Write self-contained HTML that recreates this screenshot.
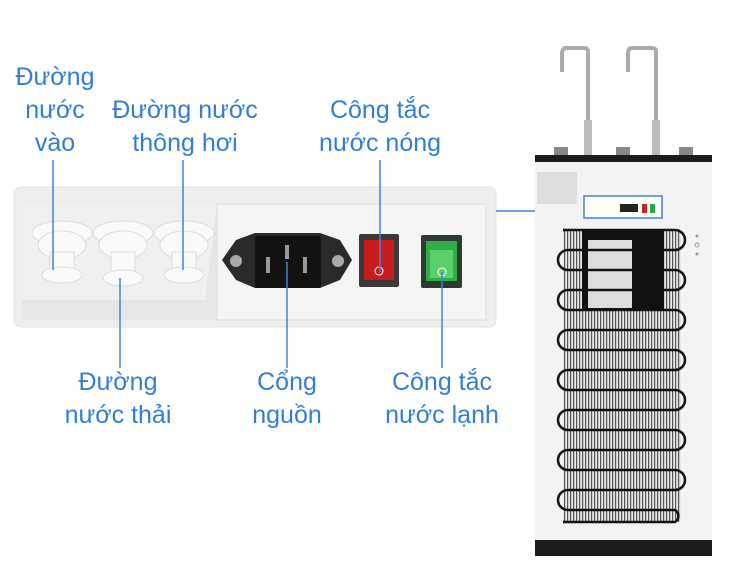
<!DOCTYPE html>
<html><head><meta charset="utf-8"><style>
html,body{margin:0;padding:0;background:#fff;}
svg{display:block}
text{font-family:"Liberation Sans",sans-serif;font-size:25px;fill:#2f7fd6;text-anchor:middle}
</style></head><body>
<svg width="730" height="584" viewBox="0 0 730 584" xmlns="http://www.w3.org/2000/svg">
<defs>
<pattern id="fins" width="3" height="10" patternUnits="userSpaceOnUse"><rect width="3" height="10" fill="#e8e8e8"/><rect width="1.2" height="10" fill="#555"/></pattern>
</defs>
<!-- panel -->
<rect x="14" y="187" width="482" height="140" rx="7" fill="#eeeeee" stroke="#e2e2e2"/>
<rect x="22" y="204" width="195" height="116" fill="#e6e6e6"/>
<polygon points="22,204 217,204 205,300 22,300" fill="#f0f0f0"/>
<rect x="217" y="204" width="269" height="116" fill="#f5f5f5" stroke="#ddd"/>
<!-- grommets -->
<g fill="#fafafa" stroke="#dcdcdc">
<ellipse cx="62" cy="233" rx="30" ry="12"/><ellipse cx="62" cy="245" rx="24" ry="14"/><rect x="50" y="252" width="24" height="22"/><ellipse cx="62" cy="275" rx="20" ry="8"/>
<ellipse cx="123" cy="233" rx="30" ry="12"/><ellipse cx="123" cy="245" rx="24" ry="14"/><rect x="111" y="252" width="24" height="24"/><ellipse cx="123" cy="278" rx="20" ry="8"/>
<ellipse cx="184" cy="233" rx="30" ry="12"/><ellipse cx="184" cy="245" rx="24" ry="14"/><rect x="172" y="252" width="24" height="22"/><ellipse cx="184" cy="275" rx="20" ry="8"/>
</g>
<!-- power socket -->
<path d="M236,240 L255,233 L320,233 L340,240 L352,260 L340,280 L320,288 L255,288 L236,280 L222,260 Z" fill="#2a2a2a"/>
<rect x="255" y="236" width="66" height="52" rx="3" fill="#111"/>
<circle cx="236" cy="261" r="6" fill="#aaa"/><circle cx="338" cy="261" r="6" fill="#aaa"/>
<rect x="266" y="257" width="4" height="16" fill="#999"/><rect x="285" y="245" width="4" height="14" fill="#999"/><rect x="303" y="257" width="4" height="16" fill="#999"/>
<!-- switches -->
<rect x="359" y="234" width="40" height="53" rx="2" fill="#3a3a3a"/><rect x="364" y="240" width="30" height="40" fill="#c91d1d"/>
<rect x="421" y="235" width="41" height="53" rx="2" fill="#2f3a30"/><rect x="426" y="241" width="31" height="40" fill="#2fae4a"/><rect x="430" y="250" width="23" height="28" fill="#5ccf6d"/>
<circle cx="379" cy="271" r="4" fill="none" stroke="#fff"/><circle cx="442" cy="272" r="4" fill="none" stroke="#fff"/>
<!-- leader lines -->
<g stroke="#3b86dc" stroke-width="1.5" fill="none">
<line x1="53" y1="160" x2="53" y2="270"/><line x1="183" y1="160" x2="183" y2="270"/><line x1="380" y1="160" x2="380" y2="272"/>
<line x1="120" y1="278" x2="120" y2="368"/><line x1="287" y1="262" x2="287" y2="368"/><line x1="442" y1="272" x2="442" y2="368"/>
<line x1="496" y1="211" x2="584" y2="211"/>
</g>
<!-- labels -->
<text x="55" y="85">Đường</text><text x="55" y="118">nước</text><text x="55" y="151">vào</text>
<text x="185" y="118">Đường nước</text><text x="185" y="151">thông hơi</text>
<text x="380" y="118">Công tắc</text><text x="380" y="151">nước nóng</text>
<text x="118" y="390">Đường</text><text x="118" y="423">nước thải</text>
<text x="287" y="390">Cổng</text><text x="287" y="423">nguồn</text>
<text x="442" y="390">Công tắc</text><text x="442" y="423">nước lạnh</text>
<!-- machine -->
<g fill="none" stroke="#aaa" stroke-width="4">
<path d="M588,150 L588,52 Q588,48 584,48 L566,48 Q562,48 562,54 L562,72"/>
<path d="M656,150 L656,52 Q656,48 652,48 L632,48 Q628,48 628,54 L628,72"/>
</g>
<rect x="584" y="120" width="8" height="38" fill="#bbb"/><rect x="652" y="120" width="8" height="38" fill="#bbb"/>
<rect x="554" y="147" width="14" height="13" fill="#888"/><rect x="616" y="147" width="14" height="13" fill="#888"/><rect x="679" y="147" width="14" height="13" fill="#888"/>
<rect x="535" y="160" width="177" height="380" fill="#f3f3f3"/>
<rect x="535" y="155" width="177" height="7" fill="#1c1c1c"/>
<rect x="535" y="540" width="177" height="16" fill="#1c1c1c"/>
<rect x="537" y="172" width="40" height="32" fill="#ddd"/>
<rect x="584" y="196" width="78" height="22" fill="#fff" stroke="#3b86dc" stroke-width="1.5"/>
<rect x="620" y="204" width="18" height="8" fill="#222"/><rect x="642" y="204" width="5" height="9" fill="#c22"/><rect x="650" y="204" width="5" height="9" fill="#2a4"/>
<rect x="563" y="230" width="118" height="292" fill="url(#fins)"/>
<rect x="582" y="230" width="82" height="80" fill="#111"/><rect x="588" y="240" width="44" height="68" fill="#ddd"/>
<path d="M563,230 L675,230 a10,10 0 0 1 0,20 L568,250 a10,10 0 0 0 0,20 L675,270 a10,10 0 0 1 0,20 L568,290 a10,10 0 0 0 0,20 L675,310 a10,10 0 0 1 0,20 L568,330 a10,10 0 0 0 0,20 L675,350 a10,10 0 0 1 0,20 L568,370 a10,10 0 0 0 0,20 L675,390 a10,10 0 0 1 0,20 L568,410 a10,10 0 0 0 0,20 L675,430 a10,10 0 0 1 0,20 L568,450 a10,10 0 0 0 0,20 L675,470 a10,10 0 0 1 0,20 L568,490 a10,10 0 0 0 0,20 L675,510 a7,7 0 0 1 0,12 L563,522" fill="none" stroke="#111" stroke-width="2.5"/>
<circle cx="697" cy="236" r="1.5" fill="#999"/><circle cx="697" cy="245" r="2" fill="none" stroke="#999"/><circle cx="697" cy="254" r="1.5" fill="#999"/>
</svg>
</body></html>
